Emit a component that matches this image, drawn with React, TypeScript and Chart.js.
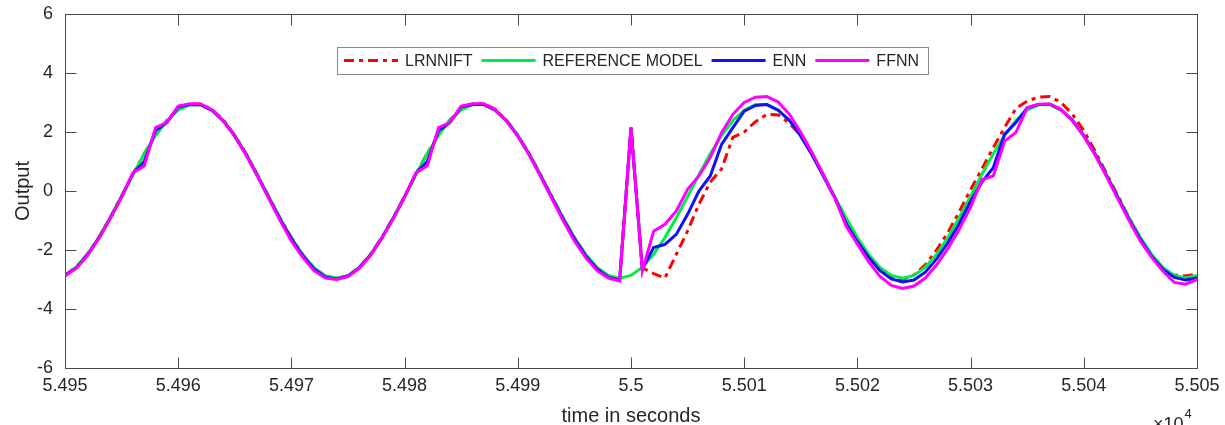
import React, { useEffect, useRef } from 'react';
import { Chart, registerables } from 'chart.js';

Chart.register(...registerables);

// ---- data ----
const time: number[] = [
  54950, 54951, 54952, 54953, 54954, 54955, 54956, 54957, 54958, 54959,
  54960, 54961, 54962, 54963, 54964, 54965, 54966, 54967, 54968, 54969,
  54970, 54971, 54972, 54973, 54974, 54975, 54976, 54977, 54978, 54979,
  54980, 54981, 54982, 54983, 54984, 54985, 54986, 54987, 54988, 54989,
  54990, 54991, 54992, 54993, 54994, 54995, 54996, 54997, 54998, 54999,
  55000, 55001, 55002, 55003, 55004, 55005, 55006, 55007, 55008, 55009,
  55010, 55011, 55012, 55013, 55014, 55015, 55016, 55017, 55018, 55019,
  55020, 55021, 55022, 55023, 55024, 55025, 55026, 55027, 55028, 55029,
  55030, 55031, 55032, 55033, 55034, 55035, 55036, 55037, 55038, 55039,
  55040, 55041, 55042, 55043, 55044, 55045, 55046, 55047, 55048, 55049,
  55050,
];

const lrnnift: number[] = [
  -2.85, -2.58, -2.13, -1.56, -0.89, -0.17, 0.56, 1.27, 1.89, 2.40,
  2.76, 2.94, 2.95, 2.76, 2.40, 1.89, 1.26, 0.55, -0.19, -0.91,
  -1.58, -2.15, -2.60, -2.88, -2.97, -2.88, -2.59, -2.14, -1.57, -0.90,
  -0.18, 0.57, 1.28, 1.90, 2.41, 2.77, 2.95, 2.96, 2.77, 2.40,
  1.89, 1.27, 0.56, -0.18, -0.90, -1.58, -2.15, -2.60, -2.88, -3.00,
  2.15, -2.60, -2.80, -2.95, -2.15, -1.35, -0.45, 0.30, 0.75, 1.82,
  2.00, 2.35, 2.60, 2.58, 2.30, 1.88, 1.26, 0.52, -0.25, -1.00,
  -1.65, -2.30, -2.65, -2.95, -3.00, -2.85, -2.50, -2.00, -1.40, -0.70,
  0.05, 0.75, 1.47, 2.15, 2.80, 3.05, 3.18, 3.20, 3.00, 2.60,
  2.05, 1.35, 0.60, -0.15, -0.90, -1.60, -2.20, -2.65, -2.85, -2.88,
  -2.82,
];

const referenceModel: number[] = [
  -2.86, -2.58, -2.14, -1.57, -0.90, -0.18, 0.55, 1.26, 1.88, 2.39,
  2.74, 2.92, 2.93, 2.74, 2.38, 1.87, 1.25, 0.54, -0.20, -0.92,
  -1.59, -2.16, -2.60, -2.87, -2.95, -2.87, -2.59, -2.15, -1.58, -0.91,
  -0.19, 0.56, 1.27, 1.89, 2.40, 2.75, 2.93, 2.94, 2.75, 2.39,
  1.88, 1.26, 0.55, -0.19, -0.91, -1.58, -2.15, -2.59, -2.86, -2.96,
  -2.86, -2.59, -2.15, -1.58, -0.91, -0.19, 0.55, 1.26, 1.88, 2.39,
  2.74, 2.93, 2.93, 2.74, 2.39, 1.88, 1.26, 0.55, -0.19, -0.91,
  -1.58, -2.15, -2.59, -2.86, -2.96, -2.86, -2.58, -2.14, -1.57, -0.90,
  -0.18, 0.56, 1.26, 1.88, 2.39, 2.74, 2.92, 2.93, 2.74, 2.39,
  1.88, 1.26, 0.55, -0.19, -0.91, -1.58, -2.15, -2.59, -2.86, -2.95,
  -2.86,
];

const enn: number[] = [
  -2.87, -2.60, -2.16, -1.59, -0.92, -0.20, 0.60, 1.00, 2.05, 2.32,
  2.85, 2.93, 2.92, 2.73, 2.37, 1.86, 1.24, 0.52, -0.23, -0.96,
  -1.62, -2.20, -2.64, -2.92, -2.98, -2.88, -2.60, -2.16, -1.59, -0.92,
  -0.20, 0.60, 1.00, 2.05, 2.32, 2.85, 2.93, 2.93, 2.74, 2.38,
  1.87, 1.25, 0.53, -0.22, -0.95, -1.62, -2.20, -2.64, -2.92, -3.02,
  2.15, -2.65, -1.92, -1.81, -1.47, -0.79, 0.00, 0.51, 1.58, 2.15,
  2.71, 2.90, 2.93, 2.74, 2.39, 1.86, 1.22, 0.50, -0.22, -1.10,
  -1.72, -2.25, -2.70, -2.98, -3.08, -3.02, -2.75, -2.30, -1.75, -1.10,
  -0.35, 0.30, 0.79, 1.92, 2.32, 2.82, 2.93, 2.94, 2.75, 2.40,
  1.88, 1.25, 0.53, -0.22, -0.96, -1.64, -2.22, -2.66, -2.93, -3.02,
  -2.95,
];

const ffnn: number[] = [
  -2.88, -2.62, -2.18, -1.60, -0.93, -0.21, 0.62, 0.85, 2.15, 2.32,
  2.88, 2.96, 2.95, 2.75, 2.37, 1.85, 1.22, 0.50, -0.25, -1.00,
  -1.69, -2.25, -2.70, -2.95, -3.00, -2.90, -2.62, -2.18, -1.60, -0.93,
  -0.21, 0.62, 0.85, 2.15, 2.32, 2.88, 2.96, 2.96, 2.76, 2.38,
  1.86, 1.23, 0.51, -0.25, -1.00, -1.69, -2.26, -2.70, -2.95, -3.05,
  2.15, -2.71, -1.36, -1.13, -0.68, 0.06, 0.51, 1.13, 1.98, 2.60,
  3.00, 3.18, 3.20, 3.02, 2.60, 1.98, 1.30, 0.55, -0.23, -1.19,
  -1.80, -2.40, -2.90, -3.20, -3.30, -3.22, -2.95, -2.50, -1.95, -1.30,
  -0.55, 0.38, 0.51, 1.69, 1.98, 2.82, 2.94, 2.95, 2.76, 2.38,
  1.86, 1.22, 0.50, -0.26, -1.00, -1.70, -2.25, -2.72, -3.10, -3.16,
  -3.00,
];

const seriesLabels: string[] = ['LRNNIFT', 'REFERENCE MODEL', 'ENN', 'FFNN'];
const seriesColors: string[] = ['#ff0000', '#00ee44', '#1010ff', '#ff00ff'];
const xAxisTitle = 'time in seconds';
const yAxisTitle = 'Output';
const xExponentBase = '\u00d710';
const xExponentPower = '4';

const FONT = '"Liberation Sans", Arial, Helvetica, sans-serif';
const TEXT_COLOR = '#262626';
const AXIS_COLOR = '#4a4a4a';

const axesBoxPlugin = {
  id: 'axesBox',
  beforeDatasetsDraw(chart: any) {
    const { ctx, chartArea: a, scales } = chart;
    ctx.save();
    ctx.strokeStyle = AXIS_COLOR;
    ctx.lineWidth = 1;
    const L = Math.round(a.left) + 0.5;
    const R = Math.round(a.right) + 0.5;
    const T = Math.round(a.top) + 0.5;
    const B = Math.round(a.bottom) + 0.5;
    ctx.strokeRect(L, T, R - L, B - T);
    const tl = 11;
    ctx.beginPath();
    scales.x.ticks.forEach((t: any) => {
      const px = Math.round(scales.x.getPixelForValue(t.value)) + 0.5;
      ctx.moveTo(px, B);
      ctx.lineTo(px, B - tl);
      ctx.moveTo(px, T);
      ctx.lineTo(px, T + tl);
    });
    scales.y.ticks.forEach((t: any) => {
      const py = Math.round(scales.y.getPixelForValue(t.value)) + 0.5;
      ctx.moveTo(L, py);
      ctx.lineTo(L + tl, py);
      ctx.moveTo(R, py);
      ctx.lineTo(R - tl, py);
    });
    ctx.stroke();
    ctx.restore();
  },
  afterDraw(chart: any) {
    const { ctx, chartArea: a } = chart;
    ctx.save();
    ctx.fillStyle = TEXT_COLOR;
    ctx.textBaseline = 'alphabetic';
    ctx.textAlign = 'left';
    ctx.font = `18px ${FONT}`;
    const baseX = a.right - 44;
    ctx.fillText(xExponentBase, baseX, a.bottom + 62);
    const w = ctx.measureText(xExponentBase).width;
    ctx.font = `13px ${FONT}`;
    ctx.fillText(xExponentPower, baseX + w + 1, a.bottom + 50);
    ctx.restore();
  },
};

const boxedLegendPlugin = {
  id: 'boxedLegend',
  afterDraw(chart: any) {
    const { ctx } = chart;
    const datasets = chart.data.datasets;
    const left = 337;
    const top = 47;
    const height = 27;
    const cy = top + height / 2;
    const sampleLen = 54;
    ctx.save();
    ctx.font = `16px ${FONT}`;
    ctx.textBaseline = 'middle';
    ctx.textAlign = 'left';
    let x = left + 7;
    const items: any[] = [];
    datasets.forEach((ds: any) => {
      const tw = ctx.measureText(ds.label).width;
      items.push({ ds, x, tw });
      x += sampleLen + 7 + tw + 9;
    });
    const right = x;
    ctx.fillStyle = '#ffffff';
    ctx.fillRect(left, top, right - left, height);
    ctx.strokeStyle = '#8a8a8a';
    ctx.lineWidth = 1;
    ctx.strokeRect(left + 0.5, top + 0.5, right - left, height);
    items.forEach(({ ds, x: ix }) => {
      ctx.beginPath();
      ctx.strokeStyle = ds.borderColor;
      ctx.lineWidth = 3;
      ctx.setLineDash(ds.borderDash || []);
      ctx.moveTo(ix, cy);
      ctx.lineTo(ix + sampleLen, cy);
      ctx.stroke();
      ctx.setLineDash([]);
      ctx.fillStyle = TEXT_COLOR;
      ctx.fillText(ds.label, ix + sampleLen + 7, cy + 1);
    });
    ctx.restore();
  },
};

function toPoints(ys: number[]) {
  return ys.map((y, i) => ({ x: time[i], y }));
}

export default function App() {
  const canvasRef = useRef<HTMLCanvasElement | null>(null);

  useEffect(() => {
    const canvas = canvasRef.current;
    if (!canvas) return;
    const seriesValues = [lrnnift, referenceModel, enn, ffnn];
    const chart = new Chart(canvas, {
      type: 'line',
      data: {
        datasets: seriesValues.map((vals, i) => ({
          label: seriesLabels[i],
          data: toPoints(vals),
          borderColor: seriesColors[i],
          backgroundColor: seriesColors[i],
          borderWidth: 3,
          borderDash: i === 0 ? [10, 5, 4, 5] : [],
          pointRadius: 0,
          tension: 0,
          fill: false,
          order: 4 - i,
        })),
      },
      options: {
        animation: false,
        responsive: false,
        maintainAspectRatio: false,
        layout: { padding: { left: 0, right: 28, top: 14, bottom: 0 } },
        plugins: {
          legend: { display: false },
          tooltip: { enabled: false },
        },
        scales: {
          x: {
            type: 'linear',
            min: 54950,
            max: 55050,
            afterFit: (s: any) => {
              s.height = 57;
              s.paddingLeft = 0;
              s.paddingRight = 0;
            },
            grid: { display: false, drawTicks: false },
            border: { display: false },
            ticks: {
              stepSize: 10,
              autoSkip: false,
              maxRotation: 0,
              padding: 7,
              color: TEXT_COLOR,
              font: { family: FONT, size: 18 },
              callback: (v: any) => String(Number((Number(v) / 1e4).toFixed(4))),
            },
            title: {
              display: true,
              text: xAxisTitle,
              color: TEXT_COLOR,
              font: { family: FONT, size: 20 },
              padding: { top: 0, bottom: -3 },
            },
          },
          y: {
            min: -6,
            max: 6,
            afterFit: (s: any) => {
              s.width = 65;
              s.paddingTop = 0;
              s.paddingBottom = 0;
            },
            grid: { display: false, drawTicks: false },
            border: { display: false },
            ticks: {
              stepSize: 2,
              padding: 12,
              color: TEXT_COLOR,
              font: { family: FONT, size: 18 },
            },
            title: {
              display: true,
              text: yAxisTitle,
              color: TEXT_COLOR,
              font: { family: FONT, size: 20 },
              padding: { top: 11, bottom: 0 },
            },
          },
        },
      },
      plugins: [axesBoxPlugin, boxedLegendPlugin],
    });
    return () => chart.destroy();
  }, []);

  return (
    <div style={{ position: 'fixed', left: 0, top: 0, width: 1225, height: 425, background: '#ffffff' }}>
      <canvas ref={canvasRef} width={1225} height={425} style={{ display: 'block' }} />
    </div>
  );
}
